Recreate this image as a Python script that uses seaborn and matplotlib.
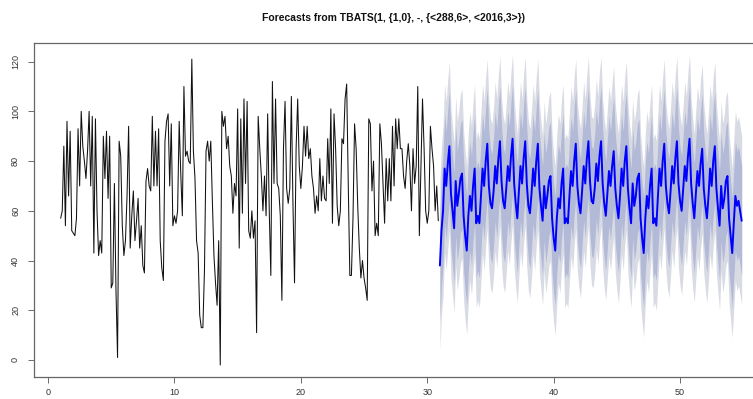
import numpy as np
import pandas as pd
import seaborn as sns
import matplotlib.pyplot as plt

# observed series, 8 readings per day starting at day 1
hist_start = 1.0
hist_values = [
    57, 60, 86, 54, 96, 66, 92, 52,
    51, 50, 57, 93, 70, 100, 86, 80,
    73, 84, 100, 70, 98, 43, 97, 60,
    42, 48, 43, 90, 73, 92, 65, 90,
    29, 31, 71, 28, 1, 88, 82, 54,
    42, 48, 66, 94, 45, 58, 68, 48,
    56, 65, 45, 54, 38, 35, 72, 77,
    70, 68, 98, 70, 92, 70, 93, 48,
    37, 32, 88, 96, 99, 70, 95, 54,
    58, 55, 60, 96, 75, 58, 110, 82,
    84, 80, 79, 121, 84, 73, 48, 43,
    18, 13, 13, 36, 84, 88, 80, 88,
    64, 42, 31, 22, 48, -2, 100, 94,
    98, 85, 90, 78, 74, 59, 71, 66,
    101, 45, 97, 59, 105, 71, 104, 52,
    49, 60, 49, 56, 11, 98, 85, 74,
    60, 74, 58, 99, 60, 34, 112, 71,
    105, 71, 69, 58, 24, 85, 104, 69,
    63, 69, 106, 63, 31, 85, 105, 78,
    69, 78, 94, 82, 94, 81, 85, 74,
    69, 59, 66, 60, 81, 64, 74, 65,
    64, 89, 71, 101, 55, 99, 85, 62,
    54, 60, 89, 87, 105, 111, 71, 34,
    34, 57, 95, 85, 62, 45, 33, 40,
    33, 29, 24, 97, 95, 68, 80, 50,
    55, 50, 95, 87, 71, 55, 81, 64,
    81, 64, 94, 70, 97, 85, 97, 85,
    85, 74, 69, 80, 87, 78, 60, 85,
    71, 78, 110, 50, 78, 105, 85, 60,
    55, 60, 94, 85, 78, 60, 70, 56,
]

# point forecast, 8 readings per day starting at day 31
fc_start = 31.0
fc_mean = [
    38, 52, 60, 77, 70, 79, 86, 67,
    60, 53, 72, 62, 67, 73, 75, 58,
    50, 44, 58, 66, 60, 70, 77, 55,
    58, 55, 66, 77, 70, 80, 87, 70,
    63, 61, 68, 78, 71, 81, 88, 72,
    64, 61, 69, 78, 72, 82, 89, 71,
    63, 57, 68, 78, 71, 81, 88, 71,
    62, 59, 67, 77, 70, 80, 87, 69,
    62, 56, 70, 61, 66, 72, 74, 57,
    49, 44, 57, 65, 61, 71, 77, 55,
    57, 55, 66, 76, 70, 80, 87, 70,
    63, 59, 68, 78, 71, 81, 88, 72,
    64, 63, 69, 79, 72, 82, 88, 71,
    63, 58, 67, 76, 70, 78, 84, 69,
    62, 57, 66, 77, 70, 80, 86, 69,
    61, 55, 71, 62, 66, 73, 75, 57,
    49, 43, 57, 66, 61, 70, 77, 55,
    57, 54, 66, 77, 70, 80, 87, 70,
    63, 59, 68, 78, 71, 81, 88, 71,
    64, 60, 69, 78, 72, 82, 89, 71,
    63, 57, 67, 76, 70, 79, 85, 69,
    62, 57, 66, 77, 70, 80, 86, 69,
    61, 54, 70, 61, 65, 72, 74, 57,
    50, 43, 55, 66, 62, 64, 60, 56,
]
# half widths of the prediction intervals
pi80_half = 22
pi95_half = 34

title = "Forecasts from TBATS(1, {1,0}, -, {<288,6>, <2016,3>})"
x_ticks = [0, 10, 20, 30, 40, 50]
y_ticks = [0, 20, 40, 60, 80, 100, 120]

hist = pd.DataFrame({"t": hist_start + np.arange(len(hist_values)) / 8,
                     "y": hist_values})
fc = pd.DataFrame({"t": fc_start + np.arange(len(fc_mean)) / 8,
                   "y": fc_mean})

sns.set_theme(style="white")
plt.rcParams["font.family"] = ["Liberation Sans", "DejaVu Sans"]

fig = plt.figure(figsize=(7.53, 3.99), dpi=100)
ax = fig.add_axes([34 / 753, 22 / 399, 1 - 34 / 753, 334 / 399])

ax.fill_between(fc["t"], fc["y"] - pi95_half, fc["y"] + pi95_half,
                color="#d9dbe4", lw=0)
ax.fill_between(fc["t"], fc["y"] - pi80_half, fc["y"] + pi80_half,
                color="#b3bad8", lw=0)
sns.lineplot(data=hist, x="t", y="y", color="#111111", lw=0.75, ax=ax)
sns.lineplot(data=fc, x="t", y="y", color="#0000ff", lw=1.4, ax=ax)

ax.set_xlim(-1.11, 55.77)
ax.set_ylim(-6.84, 127.5)
ax.set_xticks(x_ticks)
ax.set_yticks(y_ticks)
ax.set_xlabel("")
ax.set_ylabel("")
ax.tick_params(axis="both", direction="out", length=4, width=0.6,
               color="#555555", labelsize=6.5, labelcolor="#333333",
               left=True, bottom=True)
ax.tick_params(axis="x", pad=4)
ax.tick_params(axis="y", pad=6)
for lab in ax.get_yticklabels():
    lab.set_rotation(90)
    lab.set_va("center")
for side, sp in ax.spines.items():
    sp.set_color("#666666")
    sp.set_linewidth(0.9)
ax.spines["right"].set_visible(False)

fig.text(0.522, 1 - 18 / 399, title, ha="center", va="center",
         fontsize=7.5, fontweight="bold", color="#111111")

fig.savefig("out.png", dpi=100)
